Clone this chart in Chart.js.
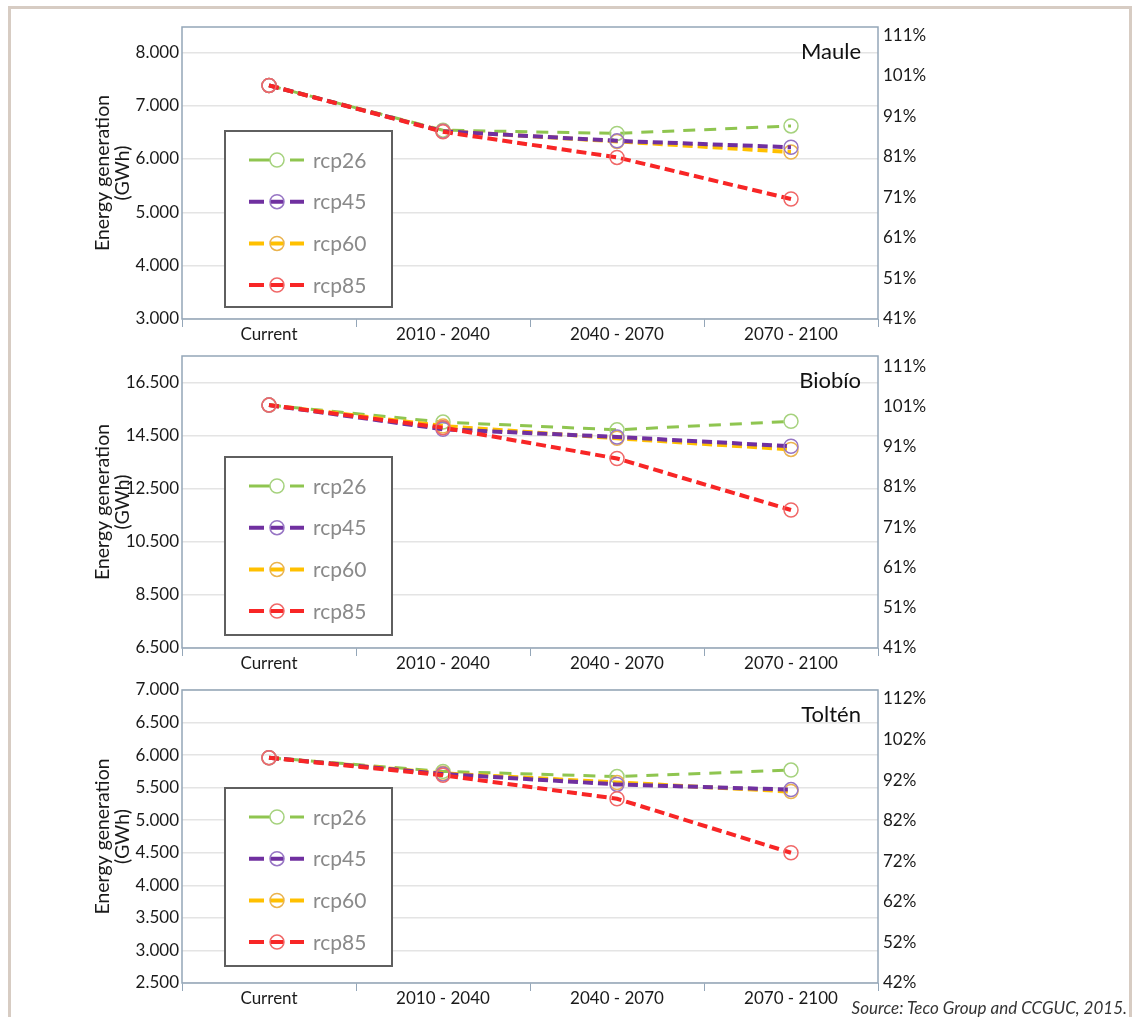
<!DOCTYPE html>
<html><head><meta charset="utf-8">
<script src="https://cdn.jsdelivr.net/npm/chart.js@4/dist/chart.umd.min.js"></script>
<style>
html,body{margin:0;padding:0;background:#fff;overflow:hidden;width:1133px;height:1017px;position:relative;}
#frame{position:absolute;left:8px;top:6px;width:1118px;height:1100px;border:3px solid #d7ccc3;}
canvas{position:absolute;left:0;}
#src{position:absolute;right:6px;top:997px;line-height:20px;font:italic 17px Lato, sans-serif;color:#333;white-space:nowrap;}
</style></head><body>
<div id="frame"></div>
<canvas id="c1" width="1133" height="340" style="top:0px"></canvas>
<canvas id="c2" width="1133" height="330" style="top:340px"></canvas>
<canvas id="c3" width="1133" height="347" style="top:670px"></canvas>
<div id="src">Source: Teco Group and CCGUC, 2015.</div>
<script>
// ---------- data ----------
const categories = ['Current', '2010 - 2040', '2040 - 2070', '2070 - 2100'];
const seriesNames = ['rcp26', 'rcp45', 'rcp60', 'rcp85'];

const mauleRcp26 = [7380, 6540, 6480, 6620];
const mauleRcp45 = [7380, 6520, 6340, 6220];
const mauleRcp60 = [7380, 6525, 6330, 6130];
const mauleRcp85 = [7380, 6510, 6030, 5250];

const biobioRcp26 = [15650, 15010, 14720, 15040];
const biobioRcp45 = [15650, 14740, 14450, 14100];
const biobioRcp60 = [15650, 14860, 14400, 13980];
const biobioRcp85 = [15650, 14800, 13640, 11700];

const toltenRcp26 = [5960, 5750, 5670, 5770];
const toltenRcp45 = [5960, 5710, 5550, 5470];
const toltenRcp60 = [5960, 5720, 5580, 5440];
const toltenRcp85 = [5960, 5690, 5330, 4500];

const mauleLeftTicks = [3000, 4000, 5000, 6000, 7000, 8000];
const mauleRightTicks = [41, 51, 61, 71, 81, 91, 101, 111];
const biobioLeftTicks = [6500, 8500, 10500, 12500, 14500, 16500];
const biobioRightTicks = [41, 51, 61, 71, 81, 91, 101, 111];
const toltenLeftTicks = [2500, 3000, 3500, 4000, 4500, 5000, 5500, 6000, 6500, 7000];
const toltenRightTicks = [42, 52, 62, 72, 82, 92, 102, 112];

// ---------- styles ----------
const lineColors = ['#8fc550', '#7030a0', '#ffc000', '#f82626'];
const pointColors = ['#a6d27e', '#9775c4', '#eab34e', '#f06868'];
const dashes = [[12, 9], [10, 5], [10, 5], [10, 5]];
const widths = [3, 4, 4, 4];
const orders = [3, 1, 2, 0];
const FONT = 'Lato, "Open Sans", sans-serif';
const AXIS_COLOR = '#94a6b8';

function fmt(v) { return String(v).replace(/\B(?=(\d{3})+(?!\d))/g, '.'); }

const decor = {
  id: 'decor',
  afterDatasetsDraw(chart, args, opts) {
    const ctx = chart.ctx, a = chart.chartArea;
    ctx.save();
    ctx.strokeStyle = AXIS_COLOR; ctx.lineWidth = 1.5; ctx.setLineDash([]);
    ctx.strokeRect(a.left, a.top, a.right - a.left, a.bottom - a.top);
    ctx.font = '22px ' + FONT; ctx.fillStyle = '#111'; ctx.textAlign = 'right'; ctx.textBaseline = 'middle';
    ctx.fillText(opts.title, a.right - 17, a.top + 25);
    const bx = a.left + 43, by = a.top + opts.legendTop, bw = 167, bh = opts.legendH;
    ctx.fillStyle = '#fff'; ctx.fillRect(bx, by, bw, bh);
    ctx.strokeStyle = '#5f5f5f'; ctx.lineWidth = 2; ctx.strokeRect(bx, by, bw, bh);
    chart.data.datasets.forEach((ds, i) => {
      const y = by + 29 + i * 41.7;
      const cx = bx + 52;
      ctx.strokeStyle = ds.borderColor; ctx.lineWidth = ds.borderWidth;
      ctx.beginPath();
      ctx.moveTo(bx + 24, y); ctx.lineTo(bx + 39, y);
      ctx.moveTo(bx + 65, y); ctx.lineTo(bx + 79, y);
      if (i > 0) { ctx.moveTo(cx - 7, y); ctx.lineTo(cx + 7, y); }
      else { ctx.moveTo(bx + 39, y); ctx.lineTo(cx - 7, y); }
      ctx.stroke();
      ctx.beginPath(); ctx.arc(cx, y, 7, 0, Math.PI * 2);
      ctx.strokeStyle = ds.pointBorderColor; ctx.lineWidth = 1.5; ctx.stroke();
      ctx.font = '21px ' + FONT; ctx.fillStyle = '#8a8a8a'; ctx.textAlign = 'left';
      ctx.fillText(seriesNames[i], bx + 88, y + 1);
    });
    ctx.restore();
  }
};

function makeChart(id, series, cfg) {
  const datasets = series.map((data, i) => ({
    label: seriesNames[i], data: data,
    borderColor: lineColors[i], borderWidth: widths[i], borderDash: dashes[i],
    pointRadius: 7, pointHoverRadius: 7, pointStyle: 'circle',
    pointBackgroundColor: 'rgba(0,0,0,0)', pointBorderColor: pointColors[i], pointBorderWidth: 1.5,
    fill: false, tension: 0, order: orders[i], yAxisID: 'y'
  }));
  return new Chart(document.getElementById(id), {
    type: 'line',
    data: { labels: categories, datasets: datasets },
    plugins: [decor],
    options: {
      responsive: false, animation: false, events: [],
      layout: { padding: { top: cfg.padTop, left: 0, right: 0, bottom: 0 } },
      plugins: { legend: { display: false }, tooltip: { enabled: false },
        decor: { title: cfg.title, legendTop: cfg.legendTop, legendH: cfg.legendH } },
      scales: {
        x: {
          type: 'category', offset: true,
          grid: { offset: true, drawOnChartArea: false, drawTicks: true, tickLength: 8, color: AXIS_COLOR, lineWidth: 1 },
          border: { display: false },
          ticks: { font: { family: FONT, size: 17, lineHeight: 1 }, color: '#1a1a1a', padding: -1, maxRotation: 0, autoSkip: false },
          afterFit: s => { s.height = cfg.xH; }
        },
        y: {
          position: 'left', min: cfg.yMin, max: cfg.yMax,
          afterBuildTicks: s => { s.ticks = cfg.leftTicks.map(v => ({ value: v })); },
          grid: { color: '#e4e4e4', lineWidth: 1.5, drawTicks: false },
          border: { display: false },
          ticks: { padding: 3, font: { family: FONT, size: 17 }, color: '#1a1a1a', callback: v => fmt(v) },
          title: { display: true, text: ['Energy generation', '(GWh)'], color: '#1a1a1a',
            font: { family: FONT, size: 19.5, lineHeight: 1.0 }, padding: { top: 93, bottom: 0 } },
          afterFit: s => { s.width = 182; }
        },
        y2: {
          position: 'right', min: cfg.rMin, max: cfg.rMax,
          afterBuildTicks: s => { s.ticks = cfg.rightTicks.map(v => ({ value: v })); },
          grid: { drawOnChartArea: false, drawTicks: false },
          border: { display: false },
          ticks: { padding: 5, font: { family: FONT, size: 17 }, color: '#1a1a1a', callback: v => v + '%' },
          afterFit: s => { s.width = 255; }
        }
      }
    }
  });
}

makeChart('c1', [mauleRcp26, mauleRcp45, mauleRcp60, mauleRcp85], {
  title: 'Maule', padTop: 27, xH: 21, yMin: 3000, yMax: 8475, rMin: 41, rMax: 113,
  leftTicks: mauleLeftTicks, rightTicks: mauleRightTicks, legendTop: 104, legendH: 176
});
makeChart('c2', [biobioRcp26, biobioRcp45, biobioRcp60, biobioRcp85], {
  title: 'Biobío', padTop: 16, xH: 22, yMin: 6500, yMax: 17500, rMin: 41, rMax: 113.5,
  leftTicks: biobioLeftTicks, rightTicks: biobioRightTicks, legendTop: 101, legendH: 178
});
makeChart('c3', [toltenRcp26, toltenRcp45, toltenRcp60, toltenRcp85], {
  title: 'Toltén', padTop: 20, xH: 34, yMin: 2500, yMax: 7000, rMin: 42, rMax: 114.2,
  leftTicks: toltenLeftTicks, rightTicks: toltenRightTicks, legendTop: 98, legendH: 178
});
</script>
</body></html>
